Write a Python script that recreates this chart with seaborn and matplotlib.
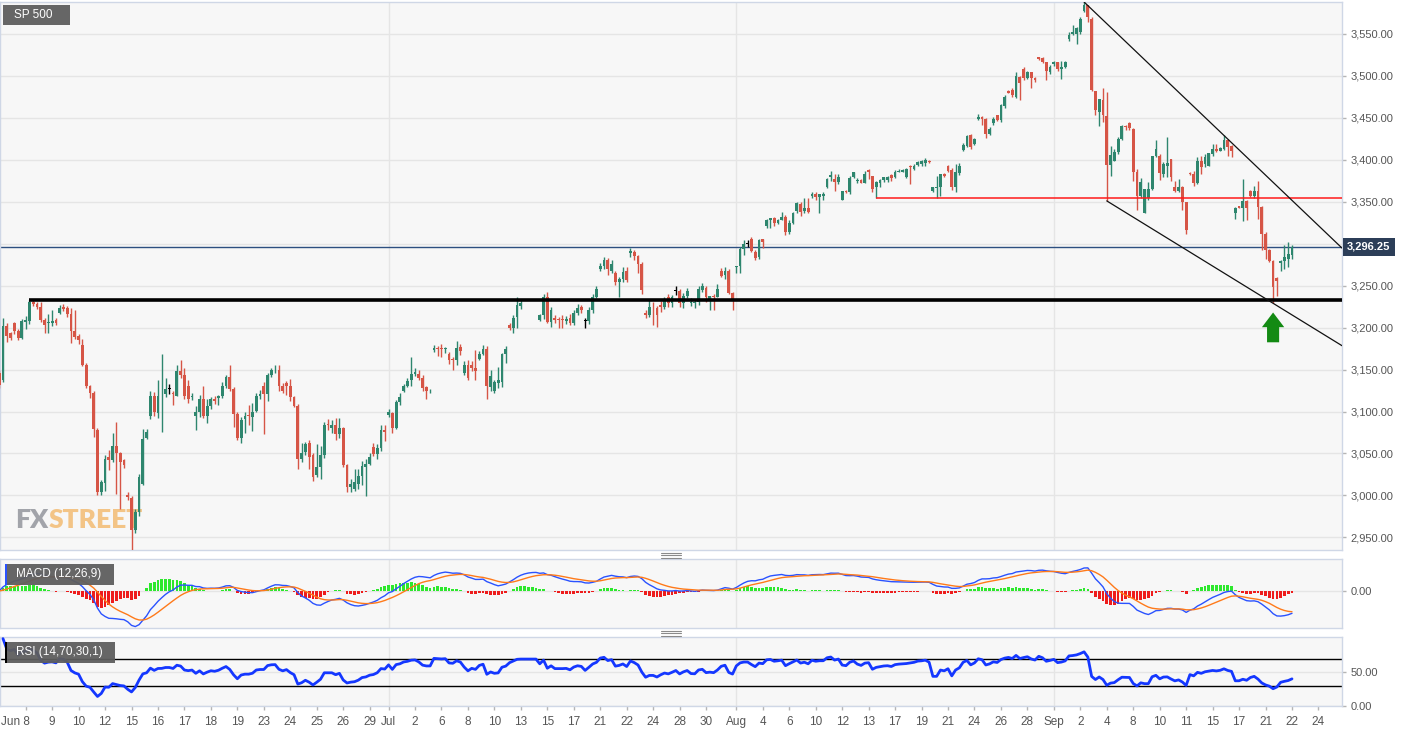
import numpy as np
import pandas as pd
import matplotlib
matplotlib.use("Agg")
import matplotlib.pyplot as plt
import matplotlib.transforms as mtransforms
from matplotlib.patches import FancyArrow, Rectangle
from matplotlib.lines import Line2D
import seaborn as sns

nan = np.nan

# 4h candles, SP 500 (gap of four bars around Jul 13)
opens = [
    3146, 3137, 3202, 3193, 3206, 3196, 3188, 3207, 3208, 3231,
    3228, 3225, 3209, 3205, 3205, 3209, 3218, 3225, 3223, 3216,
    3196, 3190, 3179, 3156, 3130, 3122, 3078, 3004, 3015, 3046,
    3042, 3059, 3050, 3042, 3000, 2997, 2959, 2980, 3014, 3069,
    3095, 3118, 3098, 3118, 3121, 3127, 3122, 3119, 3148, 3143,
    3131, 3117, 3095, 3099, 3115, 3095, 3106, 3115, 3116, 3119,
    3130, 3141, 3127, 3097, 3068, 3091, 3096, 3094, 3101, 3118,
    3131, 3121, 3144, 3149, 3150, 3131, 3134, 3131, 3117, 3107,
    3044, 3052, 3062, 3048, 3024, 3034, 3048, 3085, 3080, 3084,
    3073, 3080, 3036, 3010, 3008, 3014, 3023, 3034, 3037, 3058,
    3049, 3056, 3078, 3096, 3098, 3080, 3111, 3125, 3131, 3137,
    3145, 3145, 3140, 3129, 3124, 3173, 3176, 3176, 3175, 3169,
    3163, 3161, 3177, 3146, 3155, 3156, 3152, 3163, 3169, 3174,
    3129, 3125, 3134, 3135, 3168, 3203, 3200, 3213, 3226, nan,
    nan, nan, nan, 3209, 3215, 3237, 3207, 3211, 3210, 3210,
    3208, 3212, 3205, 3218, 3224, 3208, 3208, 3221, 3237, 3270,
    3273, 3280, 3268, 3265, 3254, 3258, 3267, 3289, 3290, 3285,
    3276, 3218, 3215, 3225, 3223, 3227, 3225, 3237, 3229, 3244,
    3244, 3229, 3238, 3229, 3229, 3230, 3245, 3247, 3234, 3238,
    3236, 3267, 3263, 3268, 3241, 3272, 3274, 3294, 3300, 3305,
    3290, 3284, 3305, 3321, 3328, 3331, 3325, 3328, 3332, 3314,
    3325, 3339, 3347, 3339, 3343, 3357, 3359, 3356, 3357, 3367,
    3380, 3377, 3374, 3352, 3363, 3361, 3380, 3375, 3376, 3372,
    3388, 3381, 3367, 3372, 3376, 3376, 3382, 3379, 3385, 3386,
    3380, 3393, 3389, 3394, 3395, 3396, 3399, 3363, 3366, 3367,
    3383, 3392, 3388, 3367, 3384, 3412, 3417, 3429, 3419, 3448,
    3451, 3448, 3431, 3444, 3453, 3447, 3464, 3482, 3483, 3475,
    3499, 3508, 3498, 3504, 3498, 3522, 3521, 3516, 3504, 3514,
    3516, 3508, 3511, 3544, 3550, 3550, 3552, 3577, 3585, 3568,
    3482, 3457, 3471, 3452, 3394, 3399, 3409, 3425, 3440, 3444,
    3437, 3386, 3357, 3337, 3355, 3365, 3404, 3405, 3383, 3393,
    3401, 3368, 3363, 3367, 3350, 3384, 3383, 3372, 3399, 3395,
    3393, 3407, 3413, 3411, 3413, 3424, 3417, 3336, 3345, 3343,
    3351, 3363, 3357, 3363, 3344, 3312, 3292, 3279, 3259, 3277,
    3279, 3282, 3287,
]
highs = [
    3150, 3211, 3206, 3195, 3207, 3198, 3210, 3214, 3233, 3234,
    3231, 3231, 3211, 3216, 3221, 3212, 3227, 3228, 3226, 3223,
    3221, 3192, 3186, 3158, 3132, 3124, 3080, 3018, 3048, 3054,
    3075, 3087, 3052, 3044, 3004, 2999, 2984, 3026, 3079, 3079,
    3124, 3123, 3138, 3168, 3140, 3133, 3124, 3156, 3161, 3152,
    3137, 3122, 3106, 3120, 3131, 3115, 3117, 3118, 3120, 3135,
    3143, 3155, 3129, 3099, 3094, 3099, 3108, 3110, 3122, 3126,
    3135, 3146, 3152, 3156, 3155, 3134, 3136, 3139, 3119, 3109,
    3063, 3064, 3066, 3050, 3061, 3059, 3088, 3091, 3090, 3092,
    3092, 3082, 3038, 3020, 3031, 3031, 3041, 3043, 3050, 3063,
    3061, 3084, 3084, 3103, 3100, 3114, 3122, 3133, 3140, 3165,
    3152, 3149, 3143, 3131, 3127, 3179, 3178, 3181, 3177, 3171,
    3165, 3184, 3180, 3160, 3162, 3160, 3173, 3172, 3179, 3178,
    3150, 3138, 3153, 3170, 3178, 3205, 3215, 3236, 3234, nan,
    nan, nan, nan, 3216, 3240, 3243, 3225, 3215, 3213, 3215,
    3214, 3216, 3221, 3228, 3227, 3211, 3224, 3240, 3249, 3277,
    3284, 3283, 3280, 3268, 3260, 3272, 3272, 3295, 3293, 3287,
    3278, 3221, 3233, 3230, 3226, 3232, 3236, 3240, 3239, 3249,
    3246, 3241, 3247, 3235, 3233, 3249, 3253, 3249, 3238, 3240,
    3252, 3271, 3272, 3270, 3243, 3274, 3296, 3304, 3304, 3308,
    3292, 3306, 3306, 3329, 3331, 3332, 3330, 3338, 3334, 3328,
    3338, 3350, 3350, 3354, 3354, 3361, 3361, 3359, 3361, 3378,
    3387, 3383, 3383, 3363, 3364, 3381, 3386, 3378, 3377, 3387,
    3389, 3381, 3375, 3377, 3380, 3381, 3383, 3388, 3389, 3389,
    3390, 3394, 3395, 3399, 3400, 3402, 3400, 3367, 3381, 3383,
    3384, 3394, 3390, 3395, 3396, 3420, 3430, 3431, 3426, 3454,
    3452, 3450, 3439, 3451, 3453, 3467, 3477, 3483, 3486, 3504,
    3500, 3510, 3506, 3505, 3499, 3523, 3522, 3517, 3513, 3518,
    3517, 3518, 3518, 3552, 3561, 3558, 3570, 3588, 3585, 3570,
    3482, 3473, 3486, 3481, 3417, 3413, 3427, 3442, 3442, 3445,
    3438, 3389, 3378, 3365, 3373, 3405, 3424, 3407, 3397, 3427,
    3401, 3375, 3377, 3369, 3350, 3385, 3387, 3403, 3405, 3407,
    3408, 3419, 3419, 3415, 3429, 3425, 3418, 3344, 3345, 3377,
    3352, 3364, 3369, 3375, 3345, 3314, 3294, 3280, 3260, 3280,
    3298, 3302, 3298,
]
lows = [
    3128, 3135, 3183, 3185, 3192, 3185, 3186, 3198, 3204, 3226,
    3222, 3207, 3193, 3193, 3202, 3203, 3216, 3220, 3213, 3182,
    3186, 3181, 3154, 3128, 3116, 3070, 3000, 3001, 3005, 3030,
    3040, 3002, 2984, 3033, 2995, 2935, 2955, 2976, 3012, 3067,
    3091, 3095, 3092, 3076, 3117, 3121, 3108, 3118, 3140, 3115,
    3110, 3114, 3078, 3093, 3092, 3086, 3103, 3109, 3108, 3116,
    3128, 3125, 3082, 3066, 3063, 3074, 3084, 3077, 3100, 3115,
    3073, 3112, 3141, 3146, 3125, 3122, 3120, 3113, 3105, 3031,
    3040, 3048, 3032, 3017, 3022, 3020, 3045, 3078, 3074, 3066,
    3068, 3034, 3004, 3004, 3005, 3008, 3012, 2999, 3036, 3047,
    3044, 3053, 3065, 3094, 3075, 3079, 3108, 3123, 3129, 3131,
    3142, 3138, 3125, 3115, 3122, 3171, 3166, 3165, 3170, 3157,
    3150, 3156, 3167, 3144, 3138, 3148, 3137, 3162, 3167, 3115,
    3125, 3122, 3128, 3129, 3158, 3197, 3193, 3200, 3222, nan,
    nan, nan, nan, 3208, 3210, 3205, 3201, 3205, 3199, 3200,
    3204, 3203, 3203, 3215, 3218, 3200, 3204, 3218, 3235, 3268,
    3270, 3263, 3265, 3251, 3237, 3254, 3254, 3284, 3280, 3265,
    3240, 3212, 3213, 3203, 3201, 3219, 3222, 3225, 3225, 3239,
    3224, 3223, 3235, 3226, 3223, 3227, 3242, 3231, 3221, 3221,
    3236, 3260, 3258, 3240, 3221, 3265, 3265, 3287, 3296, 3290,
    3281, 3282, 3295, 3319, 3319, 3321, 3323, 3328, 3310, 3311,
    3323, 3337, 3333, 3336, 3336, 3355, 3352, 3336, 3352, 3366,
    3375, 3363, 3371, 3352, 3360, 3359, 3378, 3372, 3372, 3372,
    3377, 3361, 3355, 3367, 3374, 3374, 3375, 3378, 3385, 3385,
    3378, 3371, 3388, 3393, 3393, 3392, 3396, 3361, 3355, 3357,
    3379, 3385, 3364, 3361, 3382, 3410, 3415, 3413, 3418, 3447,
    3442, 3426, 3430, 3442, 3446, 3445, 3462, 3479, 3475, 3474,
    3471, 3495, 3496, 3486, 3493, 3519, 3515, 3495, 3502, 3512,
    3506, 3496, 3509, 3542, 3549, 3538, 3550, 3576, 3564, 3482,
    3453, 3440, 3445, 3351, 3381, 3399, 3407, 3423, 3436, 3435,
    3375, 3340, 3355, 3336, 3352, 3364, 3403, 3376, 3379, 3379,
    3375, 3361, 3361, 3340, 3311, 3382, 3369, 3371, 3383, 3391,
    3393, 3405, 3409, 3410, 3412, 3404, 3403, 3330, 3343, 3327,
    3328, 3356, 3355, 3330, 3292, 3282, 3278, 3229, 3238, 3268,
    3270, 3272, 3282,
]
closes = [
    3132, 3202, 3190, 3188, 3196, 3188, 3208, 3209, 3231, 3228,
    3224, 3209, 3203, 3207, 3208, 3206, 3223, 3222, 3216, 3196,
    3189, 3185, 3156, 3130, 3122, 3079, 3004, 3016, 3044, 3042,
    3059, 3050, 3040, 3036, 2998, 2959, 2980, 3022, 3067, 3076,
    3118, 3100, 3118, 3119, 3127, 3127, 3121, 3148, 3143, 3119,
    3115, 3119, 3099, 3115, 3095, 3106, 3115, 3112, 3118, 3130,
    3141, 3127, 3097, 3069, 3090, 3095, 3095, 3100, 3118, 3121,
    3121, 3144, 3149, 3150, 3131, 3124, 3130, 3117, 3107, 3044,
    3050, 3061, 3046, 3022, 3034, 3048, 3084, 3084, 3084, 3073,
    3080, 3036, 3010, 3014, 3016, 3023, 3035, 3038, 3046, 3049,
    3057, 3078, 3076, 3100, 3080, 3111, 3117, 3131, 3136, 3145,
    3147, 3140, 3128, 3125, 3125, 3176, 3175, 3174, 3176, 3162,
    3161, 3176, 3172, 3155, 3140, 3152, 3148, 3168, 3175, 3130,
    3142, 3135, 3137, 3168, 3175, 3199, 3212, 3227, 3229, nan,
    nan, nan, nan, 3215, 3237, 3207, 3221, 3209, 3209, 3209,
    3210, 3205, 3217, 3223, 3221, 3208, 3221, 3237, 3246, 3274,
    3280, 3270, 3276, 3254, 3258, 3266, 3257, 3291, 3285, 3276,
    3245, 3215, 3224, 3224, 3215, 3225, 3233, 3229, 3236, 3244,
    3229, 3238, 3244, 3231, 3230, 3246, 3249, 3236, 3238, 3236,
    3246, 3262, 3267, 3241, 3234, 3274, 3294, 3300, 3300, 3291,
    3283, 3304, 3302, 3328, 3331, 3325, 3328, 3332, 3314, 3325,
    3336, 3348, 3338, 3343, 3338, 3359, 3356, 3359, 3359, 3377,
    3382, 3374, 3380, 3363, 3361, 3378, 3385, 3376, 3372, 3383,
    3385, 3365, 3373, 3376, 3379, 3380, 3378, 3385, 3387, 3388,
    3389, 3391, 3393, 3397, 3398, 3400, 3397, 3367, 3367, 3383,
    3381, 3387, 3367, 3385, 3393, 3418, 3428, 3415, 3425, 3451,
    3448, 3431, 3437, 3449, 3447, 3465, 3475, 3480, 3477, 3500,
    3491, 3498, 3504, 3498, 3495, 3520, 3516, 3506, 3511, 3517,
    3508, 3511, 3517, 3549, 3552, 3557, 3568, 3584, 3570, 3483,
    3459, 3473, 3453, 3394, 3406, 3409, 3425, 3440, 3439, 3438,
    3385, 3357, 3374, 3365, 3365, 3404, 3413, 3384, 3395, 3396,
    3379, 3363, 3368, 3350, 3316, 3383, 3372, 3399, 3391, 3403,
    3408, 3413, 3410, 3414, 3424, 3415, 3410, 3343, 3343, 3351,
    3343, 3357, 3363, 3344, 3312, 3292, 3279, 3248, 3256, 3279,
    3284, 3288, 3296.25,
]

tick_labels = ["Jun 8", "9", "10", "12", "15", "16", "17", "18", "19", "23", "24", "25", "26", "29",
               "Jul", "2", "6", "8", "10", "13", "15", "17", "21", "22", "24", "28", "30",
               "Aug", "4", "6", "10", "12", "13", "17", "19", "21", "24", "26", "28",
               "Sep", "2", "4", "8", "10", "11", "15", "17", "21", "22", "24"]
tick_bars = [7, 14, 21, 28, 35, 42, 49, 56, 63, 70, 77, 84, 91, 98,
             103, 110, 117, 124, 131, 138, 145, 152, 159, 166, 173, 180, 187,
             195, 202, 209, 216, 223, 230, 237, 244, 251, 258, 265, 272,
             279, 286, 293, 300, 307, 314, 321, 328, 335, 342, 349]
month_bars = [103, 195, 279]
price_ticks = list(range(2950, 3551, 50))

# annotation anchors (bar index)
support_bar = 8        # horizontal support from this bar's high
resist_bar = 232       # red line from this bar's low
upper_trend = (287, 324)   # highs
lower_trend = (293, 337)   # lows
arrow_bar = 337

sns.set_style("white")
plt.rcParams["font.family"] = ["Liberation Sans", "DejaVu Sans"]

GREEN = "#2e866e"
RED = "#d65546"
GRID = "#e5e5e5"
EDGE = "#cfd7e6"
TEXT = "#555555"
FACE = "#f7f7f7"

W, H = 1413, 732
fig = plt.figure(figsize=(W / 100, H / 100), dpi=100, facecolor="white")


def px_axes(top, bottom, right=1342):
    a = fig.add_axes([0, 1 - bottom / H, right / W, (bottom - top) / H])
    a.set_facecolor(FACE)
    for s in a.spines.values():
        s.set_color(EDGE)
        s.set_linewidth(1)
    return a


ax = px_axes(2, 550)
ax_m = px_axes(559, 628)
ax_r = px_axes(637, 706)

df = pd.DataFrame({"open": opens, "high": highs, "low": lows, "close": closes})
df["bar"] = np.arange(len(df))
x_lo, x_hi = 0.21, 355.23

# ---- candles
valid = df.dropna()
col = np.where(valid.close > valid.open, GREEN,
               np.where(valid.close < valid.open, RED, "black"))
ax.vlines(valid.bar, valid.low, valid.high, colors=col, lw=1, zorder=3)
body_lo = np.minimum(valid.open, valid.close)
body_h = np.maximum((valid.close - valid.open).abs(), 0.9)
ax.bar(valid.bar, body_h, bottom=body_lo, width=0.74, color=col, lw=0, zorder=4)

# ---- levels and channel
last = closes[-1]
ax.axhline(last, color="#2d4f80", lw=1, zorder=2)
ax.hlines(highs[support_bar], support_bar, x_hi, color="black", lw=2.6, zorder=5)
ax.hlines(lows[resist_bar], resist_bar, x_hi, color="#ff1a1a", lw=1.1, zorder=5)


def trend(b0, b1, vals):
    slope = (vals[b1] - vals[b0]) / (b1 - b0)
    ax.plot([b0, x_hi], [vals[b0], vals[b0] + slope * (x_hi - b0)],
            color="#111111", lw=0.9, zorder=5)


trend(*upper_trend, highs)
trend(*lower_trend, lows)

ax.add_patch(FancyArrow(arrow_bar, lows[arrow_bar] - 46.5, 0, 35.5, width=3.2,
                        head_width=5.9, head_length=17.5, length_includes_head=True,
                        color="#138a13", lw=0, zorder=6))

ax.set_xlim(x_lo, x_hi)
ax.set_ylim(2935, 3588)
ax.set_yticks(price_ticks)
# the last-price tag covers the nearest regular label
ax.set_yticklabels(["" if abs(v - last) < 25 else f"{v:,.2f}" for v in price_ticks])
ax.set_xticks([])

# watermark
wm_font = ["Lato", "Liberation Sans"]
fx = ax.text(15 / 1342, 18 / 548, "FX", transform=ax.transAxes, ha="left", va="bottom",
             fontsize=19, fontweight="heavy", color="#a2a4aa", family=wm_font, zorder=1)
ax.annotate("STREET", xy=(1, 0), xycoords=fx, ha="left", va="bottom",
            fontsize=19, fontweight="heavy", color="#f3c486", family=wm_font, zorder=1)

# ---- MACD
close_f = df.close.ffill()
macd = close_f.ewm(span=12, adjust=False).mean() - close_f.ewm(span=26, adjust=False).mean()
signal = macd.ewm(span=9, adjust=False).mean()
hist = macd - signal
ax_m.bar(df.bar, hist, width=0.72, lw=0,
         color=np.where(hist >= 0, "#2de82d", "#ee1c1c"), zorder=2)
sns.lineplot(x=df.bar, y=macd, ax=ax_m, color="#2a52ff", lw=1, zorder=3)
sns.lineplot(x=df.bar, y=signal, ax=ax_m, color="#ff7a1a", lw=1, zorder=3)
m_lo = min(macd.min(), signal.min(), hist.min()) * 1.04
ax_m.set_ylim(m_lo, -m_lo * 32 / 37)
ax_m.set_yticks([0])
ax_m.set_yticklabels(["0.00"])

# ---- RSI
delta = close_f.diff()
gain = delta.clip(lower=0).ewm(alpha=1 / 14, adjust=True).mean()
loss = (-delta.clip(upper=0)).ewm(alpha=1 / 14, adjust=True).mean()
rsi = 100 - 100 / (1 + gain / loss)
sns.lineplot(x=df.bar, y=rsi, ax=ax_r, color="#1437ff", lw=2, zorder=3)
ax_r.axhline(70, color="black", lw=1, zorder=2)
ax_r.axhline(30, color="black", lw=1, zorder=2)
ax_r.set_ylim(0, 102.4)
ax_r.set_yticks([0, 50])
ax_r.set_yticklabels(["0.00", "50.00"])

for a in (ax, ax_m, ax_r):
    a.set_xlim(x_lo, x_hi)
    a.yaxis.tick_right()
    a.grid(axis="y", color=GRID, lw=1, zorder=0)
    for b in month_bars:
        a.axvline(b, color=GRID, lw=1, zorder=0)
    a.set_xlabel("")
    a.set_ylabel("")
    a.tick_params(axis="y", labelsize=8, labelcolor=TEXT, color="#b5b5b5",
                  length=3, width=1, pad=3)
    a.set_axisbelow(True)

ax_m.set_xticks([])
ax_r.set_xticks(tick_bars)
ax_r.set_xticklabels(tick_labels)
ax_r.tick_params(axis="x", labelsize=8.5, labelcolor=TEXT, color="#b5b5b5",
                 length=3, width=1, pad=4, bottom=True)
first = ax_r.get_xticklabels()[0]
first.set_ha("right")
first.set_transform(first.get_transform() + mtransforms.ScaledTranslation(4 / 100, 0, fig.dpi_scale_trans))

# ---- price tag
tag_tr = mtransforms.blended_transform_factory(ax.transAxes, ax.transData)
ax.text(1.0 + 5 / 1342, last, f"{last:,.2f}", transform=tag_tr, ha="left", va="center",
        color="white", fontsize=8, fontweight="bold", clip_on=False, zorder=10,
        bbox=dict(boxstyle="square,pad=0.38", fc="#2c3e58", ec="none"))


# ---- panel labels
def label_box(x0, y0, w, h, text, bar_color=None):
    fig.add_artist(Rectangle((x0 / W, 1 - (y0 + h) / H), w / W, h / H,
                             transform=fig.transFigure, fc="#5e5e5e", ec="none", alpha=0.95))
    if bar_color:
        fig.add_artist(Rectangle((x0 / W, 1 - (y0 + h) / H), 2 / W, h / H,
                                 transform=fig.transFigure, fc=bar_color, ec="none"))
    fig.text((x0 + 11) / W, 1 - (y0 + h / 2) / H, text, ha="left", va="center",
             color="white", fontsize=8.5)


label_box(3, 5, 67, 20, "SP 500")
label_box(5, 564, 109, 21, "MACD (12,26,9)", "#2a52ff")
label_box(5, 642, 110, 21, "RSI (14,70,30,1)", "black")

# grips between panels
for yc in (555, 633):
    for dy in (-2.5, 0, 2.5):
        fig.add_artist(Line2D([661 / W, 681 / W], [1 - (yc + dy) / H] * 2,
                              transform=fig.transFigure, color="#8a8a8a", lw=0.8))

fig.savefig("out.png", dpi=100, facecolor=fig.get_facecolor())
